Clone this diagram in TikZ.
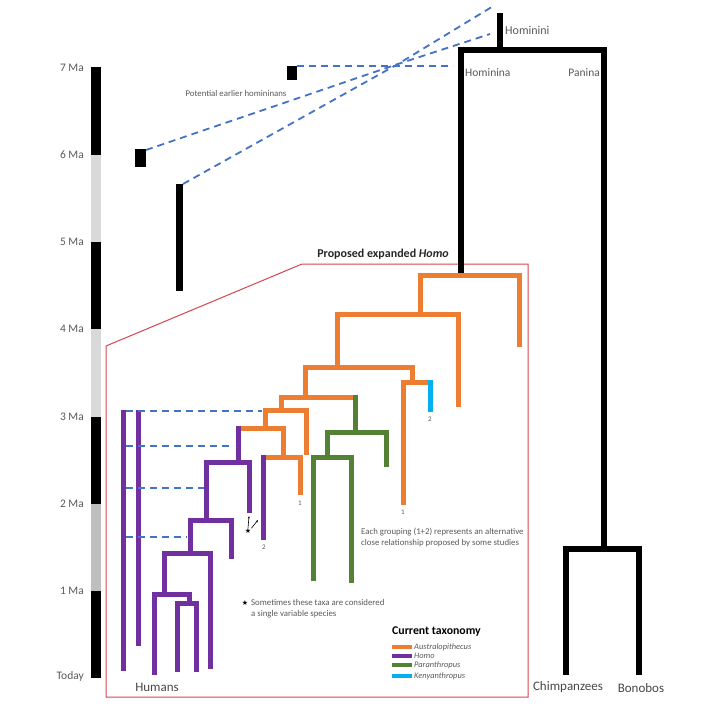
\documentclass[tikz,border=0pt]{standalone}
\usepackage{fontspec}
\setmainfont{Carlito}
\newfontfamily\symfont{DejaVu Sans}
\usetikzlibrary{arrows.meta}
\definecolor{austro}{HTML}{ED7D31}
\definecolor{homo}{HTML}{7030A0}
\definecolor{para}{HTML}{548235}
\definecolor{kenya}{HTML}{00B0F0}
\definecolor{linkblue}{HTML}{4472C4}
\definecolor{boxred}{HTML}{D6454F}
\definecolor{txt}{HTML}{595959}
\definecolor{lgrey}{HTML}{D9D9D9}
\definecolor{mgrey}{HTML}{BFBFBF}
\begin{document}
\begin{tikzpicture}[x=1pt,y=-1pt,
  branch/.style={line width=5pt},
  ape/.style={branch,black,line width=5.5pt},
  dashlink/.style={linkblue,line width=1.8pt,dash pattern=on 7pt off 5pt},
  label/.style={inner sep=0pt,text=txt,font=\fontsize{11.5}{13}\selectfont},
  taxon/.style={inner sep=0pt,text=txt!80!black,font=\fontsize{13}{15}\selectfont},
  note/.style={inner sep=0pt,text=txt,font=\fontsize{8.8}{11}\selectfont,align=left},
  tip/.style={inner sep=0pt,text=txt,font=\fontsize{7}{8}\selectfont},
  starmark/.style={inner sep=0pt,font=\symfont\fontsize{7}{8}\selectfont}]
  \useasboundingbox (0,0) rectangle (709,709);

  % Time scale
  \foreach \top/\bot/\c in {67/155/black,155/242/lgrey,242/329/black,329/417/lgrey,
                            417/504/black,504/591/mgrey,591/678/black}
    \fill[\c] (91,\top) rectangle (101,\bot);
  \foreach \y/\lab in {68/7 Ma,155/6 Ma,242/5 Ma,329/4 Ma,417/3 Ma,504/2 Ma,591/1 Ma,676/Today}
    \node[label,anchor=east] (tick\y) at (84,\y) {\lab};

  % Potential earlier hominins
  \fill (287,66) rectangle (297,80);
  \fill (135,149) rectangle (146,167);
  \fill (176,184) rectangle (183,291);
  \coordinate (meet) at (398,64);
  \draw[dashlink] (297,66) -- (453,66);
  \draw[dashlink] (146,150) -- (meet) -- (490,34);
  \draw[dashlink] (183,184) -- (meet) -- (495,5);
  \node[note] (earlier) at (236,93) {Potential earlier homininans};

  % Proposed expanded Homo
  \draw[boxred,line width=1pt] (106,346) -- (302,264) -- (528,264) -- (528,697) -- (106,697) -- cycle;
  \node[inner sep=0pt,font=\fontsize{12}{14}\selectfont\bfseries,text=black!85] (expanded)
    at (383,254) {Proposed expanded \textit{Homo}};

  % Hominini / Panina
  \draw[ape] (500,13) -- (500,50);
  \draw[ape] (461,273) |- (604,50) -- (604,549);
  \draw[ape] (566,675) |- (639,549) -- (639,675);
  \node[label,anchor=west,font=\fontsize{12}{13}\selectfont] (hominini) at (505,30) {Hominini};
  \node[label,anchor=west] (hominina) at (465,73) {Hominina};
  \node[label,anchor=east] (panina) at (600,73) {Panina};
  \node[taxon] (chimps) at (568,687) {Chimpanzees};
  \node[taxon] (bonobos) at (641,688) {Bonobos};
  \node[taxon] (humans) at (157,687) {Humans};

  % Australopithecus
  \draw[branch,austro] (420,314) |- (519,275) -- (519,347);
  \draw[branch,austro] (337,367) |- (458,314) -- (458,407);
  \draw[branch,austro] (305,397) |- (412,367) -- (412,382);
  \draw[branch,austro] (403,505) |- (428,382);
  \draw[branch,kenya] (430,379.5) -- (430,412);
  \draw[branch,austro] (281,410) |- (352.5,397);
  \draw[branch,austro] (265,428) |- (306,410) -- (306,455);
  \draw[branch,austro] (240.5,428) -| (283,457);
  \draw[branch,austro] (265.5,457) -| (300,495);

  % Paranthropus
  \draw[branch,para] (355,394.5) -- (355,432);
  \draw[branch,para] (327,457) |- (386,432) -- (386,467);
  \draw[branch,para] (313,581) |- (351,457) -- (351,583);

  % Homo
  \draw[branch,homo] (238,425.5) -- (238,462);
  \draw[branch,homo] (263,454.5) -- (263,540);
  \draw[branch,homo] (206,520) |- (249,462) -- (249,513);
  \draw[branch,homo] (190,553) |- (231,520) -- (231,559);
  \draw[branch,homo] (164,594) |- (210,553) -- (210,669);
  \draw[branch,homo] (154,675) |- (189,594) -- (189,603);
  \draw[branch,homo] (177,672) |- (196,603) -- (196,672);
  \draw[branch,homo] (123,410) -- (123,671);
  \draw[branch,homo] (138,410) -- (138,646);
  \draw[dashlink] (126,411) -- (262,411);
  \draw[dashlink] (126,446) -- (234,446);
  \draw[dashlink] (126,488) -- (204,488);
  \draw[dashlink] (126,537) -- (187,537);

  % grouping marks
  \node[tip] (one a) at (300,503) {1};
  \node[tip] (one b) at (403,512) {1};
  \node[tip] (two a) at (264,547) {2};
  \node[tip] (two b) at (430,419) {2};
  \node[starmark] (star) at (248,531) {★};
  \draw[-{Stealth[length=2.5pt]},line width=0.6pt] (star.north) -- (249,516);
  \draw[-{Stealth[length=2.5pt]},line width=0.6pt] (star.north east) -- (258,520);

  % Notes
  \node[note,anchor=west] (grouping) at (361,537.5)
    {Each grouping (1+2) represents an alternative\\close relationship proposed by some studies};
  \node[starmark] (star note) at (245,603) {★};
  \node[note,anchor=west] (variable) at (251,608.5)
    {Sometimes these taxa are considered\\a single variable species};

  % Legend
  \node[inner sep=0pt,anchor=west,font=\fontsize{11.8}{13}\selectfont\bfseries] (legend) at (392,632) {Current taxonomy};
  \foreach \y/\c/\name in {647/austro/Australopithecus,656/homo/Homo,665/para/Paranthropus,676/kenya/Kenyanthropus} {
    \fill[\c] (392,\y-2) rectangle (412,\y+2);
    \node[note,anchor=west,font=\fontsize{8.4}{9}\selectfont\itshape] (key\y) at (414,\y) {\name};
  }
\end{tikzpicture}
\end{document}
